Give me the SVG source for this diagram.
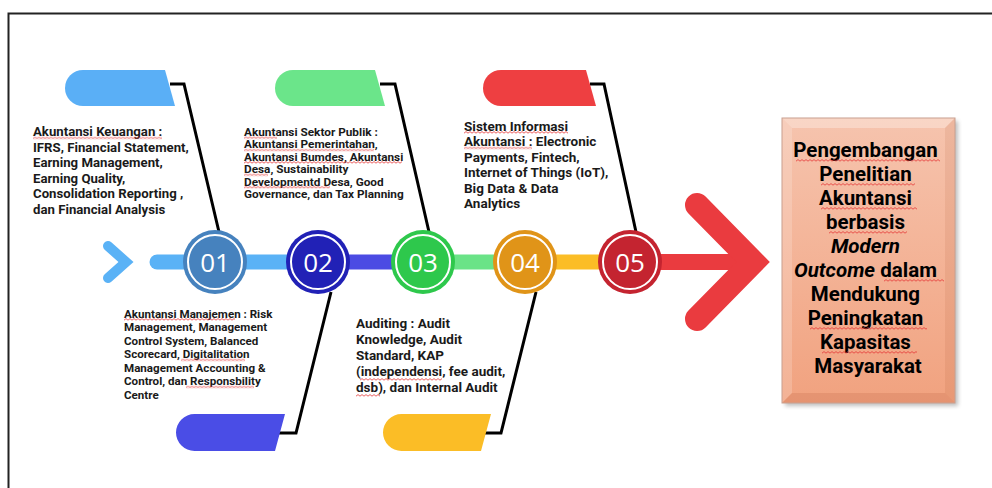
<svg xmlns="http://www.w3.org/2000/svg" width="992" height="488" viewBox="0 0 992 488">
<defs>
<style>
.t{font-family:Roboto,"Liberation Sans",Arial,sans-serif;font-weight:700;fill:#1a1a1a}
.num{font-family:"Open Sans","Noto Sans",sans-serif;font-size:26px;fill:#fff;text-anchor:middle}
.con{fill:none;stroke:#000;stroke-width:3;stroke-linejoin:miter}
.ring{fill:none;stroke:#fff;stroke-width:2}
.bx{font-family:Roboto,"Liberation Sans",Arial,sans-serif;font-weight:700;font-size:20.5px;fill:#000;text-anchor:middle}
</style>
<pattern id="sq" width="4" height="3" patternUnits="userSpaceOnUse">
<path d="M0 2.2 L2 0.6 L4 2.2" fill="none" stroke="#e53535" stroke-width="0.8"/>
</pattern>
<linearGradient id="bg" x1="0" y1="0" x2="0" y2="1">
<stop offset="0" stop-color="#f6c4ae"/>
<stop offset="1" stop-color="#f1a27f"/>
</linearGradient>
<filter id="sh" x="-10%" y="-10%" width="130%" height="130%">
<feGaussianBlur stdDeviation="2"/>
</filter>
</defs>
<rect width="992" height="488" fill="#fff"/>
<path d="M8.5 488 V13.5 H992" fill="none" stroke="#222" stroke-width="2"/>

<g id="main-line">
<line x1="157" y1="262" x2="318" y2="262" stroke="#5ab2f6" stroke-width="15" stroke-linecap="round"/>
<line x1="318" y1="262" x2="423" y2="262" stroke="#4b4be3" stroke-width="15"/>
<line x1="423" y1="262" x2="525" y2="262" stroke="#6ae387" stroke-width="15"/>
<line x1="525" y1="262" x2="630" y2="262" stroke="#fbbd26" stroke-width="15"/>
<line x1="630" y1="262" x2="752" y2="262" stroke="#ea3b3f" stroke-width="16"/>
<polyline points="697,205 753,262 697,319" fill="none" stroke="#ea3b3f" stroke-width="24" stroke-linecap="round" stroke-linejoin="miter"/>
<polyline points="108,246 126,262 108,278" fill="none" stroke="#5ab2f6" stroke-width="10" stroke-linecap="round" stroke-linejoin="miter"/>
</g>

<g id="connectors">
<path class="con" d="M170 84 H184 L219 232"/>
<path class="con" d="M380 84 H395 L429 232"/>
<path class="con" d="M590 84 H604 L636 232"/>
<path class="con" d="M278 433 H296 L331 292"/>
<path class="con" d="M484 433 H501 L536 292"/>
</g>

<g id="tab-1"><path d="M83 70 H165 L175 106 H83 A18 18 0 0 1 83 70 Z" fill="#5aaff6"/></g>
<g id="tab-2"><path d="M293 70 H375 L385 106 H293 A18 18 0 0 1 293 70 Z" fill="#6be58a"/></g>
<g id="tab-3"><path d="M501 70 H586 L596 106 H501 A18 18 0 0 1 501 70 Z" fill="#ee3f41"/></g>
<g id="tab-4"><path d="M194.5 414 H285 L275 451 H194.5 A18.5 18.5 0 0 1 194.5 414 Z" fill="#4a4de6"/></g>
<g id="tab-5"><path d="M401.5 414 H491 L481 451 H401.5 A18.5 18.5 0 0 1 401.5 414 Z" fill="#fbbd26"/></g>

<g id="node-01"><circle cx="215" cy="262" r="32" fill="#4682be"/><circle class="ring" cx="215" cy="262" r="27"/><text class="num" x="215" y="271.5">01</text></g>
<g id="node-02"><circle cx="318" cy="262" r="32" fill="#2121b6"/><circle class="ring" cx="318" cy="262" r="27"/><text class="num" x="318" y="271.5">02</text></g>
<g id="node-03"><circle cx="423" cy="262" r="32" fill="#2ec84c"/><circle class="ring" cx="423" cy="262" r="27"/><text class="num" x="423" y="271.5">03</text></g>
<g id="node-04"><circle cx="525" cy="262" r="32" fill="#e09418"/><circle class="ring" cx="525" cy="262" r="27"/><text class="num" x="525" y="271.5">04</text></g>
<g id="node-05"><circle cx="630" cy="262" r="32" fill="#c42430"/><circle class="ring" cx="630" cy="262" r="27"/><text class="num" x="630" y="271.5">05</text></g>

<g id="text-keuangan">
<text class="t" font-size="13.2">
<tspan x="33" y="136">Akuntansi Keuangan :</tspan>
<tspan x="33" y="151.6">IFRS, Financial Statement,</tspan>
<tspan x="33" y="167.2">Earning Management,</tspan>
<tspan x="33" y="182.8">Earning Quality,</tspan>
<tspan x="33" y="198.4">Consolidation Reporting ,</tspan>
<tspan x="33" y="214">dan Financial Analysis</tspan>
</text>
<rect transform="translate(33,136.5)" width="129" height="3" fill="url(#sq)"/>
</g>

<g id="text-publik">
<text class="t" font-size="11.8">
<tspan x="244" y="136">Akuntansi Sektor Publik :</tspan>
<tspan x="244" y="148.4">Akuntansi Pemerintahan,</tspan>
<tspan x="244" y="160.8">Akuntansi Bumdes, Akuntansi</tspan>
<tspan x="244" y="173.2">Desa, Sustainability</tspan>
<tspan x="244" y="185.6">Developmentd Desa, Good</tspan>
<tspan x="244" y="198">Governance, dan Tax Planning</tspan>
</text>
<rect transform="translate(244,136.3)" width="33" height="3" fill="url(#sq)"/>
<rect transform="translate(244,148.6)" width="130" height="3" fill="url(#sq)"/>
<rect transform="translate(244,161)" width="158" height="3" fill="url(#sq)"/>
<rect transform="translate(244,173.4)" width="24" height="3" fill="url(#sq)"/>
<rect transform="translate(244,185.8)" width="86" height="3" fill="url(#sq)"/>
</g>

<g id="text-sia">
<text class="t" font-size="13.5">
<tspan x="464" y="130.5">Sistem Informasi</tspan>
<tspan x="464" y="146">Akuntansi : Electronic</tspan>
<tspan x="464" y="161.5">Payments, Fintech,</tspan>
<tspan x="464" y="177">Internet of Things (IoT),</tspan>
<tspan x="464" y="192.5">Big Data &amp; Data</tspan>
<tspan x="464" y="208">Analytics</tspan>
</text>
<rect transform="translate(464,131)" width="104" height="3" fill="url(#sq)"/>
<rect transform="translate(464,146.5)" width="68" height="3" fill="url(#sq)"/>
</g>

<g id="text-manajemen">
<text class="t" font-size="11.6">
<tspan x="124" y="317.5">Akuntansi Manajemen : Risk</tspan>
<tspan x="124" y="331">Management, Management</tspan>
<tspan x="124" y="344.5">Control System, Balanced</tspan>
<tspan x="124" y="358">Scorecard, Digitalitation</tspan>
<tspan x="124" y="371.5">Management Accounting &amp;</tspan>
<tspan x="124" y="385">Control, dan Responsbility</tspan>
<tspan x="124" y="398.5">Centre</tspan>
</text>
<rect transform="translate(124,318)" width="111" height="3" fill="url(#sq)"/>
<rect transform="translate(181,358.5)" width="64" height="3" fill="url(#sq)"/>
<rect transform="translate(186,385.5)" width="68" height="3" fill="url(#sq)"/>
</g>

<g id="text-auditing">
<text class="t" font-size="13.5">
<tspan x="356" y="327.5">Auditing : Audit</tspan>
<tspan x="356" y="343.5">Knowledge, Audit</tspan>
<tspan x="356" y="359.5">Standard, KAP</tspan>
<tspan x="356" y="375.5">(independensi, fee audit,</tspan>
<tspan x="356" y="391.5">dsb), dan Internal Audit</tspan>
</text>
<rect transform="translate(360,378)" width="82" height="3" fill="url(#sq)"/>
<rect transform="translate(356,394)" width="24" height="3" fill="url(#sq)"/>
</g>

<g id="outcome-box">
<rect x="785" y="121" width="173" height="285" fill="#000" opacity="0.25" filter="url(#sh)"/>
<rect x="782" y="118" width="173" height="285" fill="url(#bg)"/>
<polygon points="782,118 955,118 945,128 792,128" fill="#fff" opacity="0.3"/>
<polygon points="782,118 792,128 792,393 782,403" fill="#fff" opacity="0.18"/>
<polygon points="955,118 955,403 945,393 945,128" fill="#a04020" opacity="0.1"/>
<polygon points="782,403 955,403 945,393 792,393" fill="#a04020" opacity="0.15"/>
<rect x="782" y="118" width="173" height="285" fill="none" stroke="#c9a090" stroke-width="1"/>
<text class="bx">
<tspan x="868" y="156.5">Pengembangan</tspan>
<tspan x="868" y="180.5">Penelitian</tspan>
<tspan x="868" y="204.5">Akuntansi</tspan>
<tspan x="868" y="228.5">berbasis</tspan>
<tspan x="868" y="252.5" font-style="italic">Modern</tspan>
<tspan x="868" y="276.5"><tspan font-style="italic">Outcome</tspan> dalam</tspan>
<tspan x="868" y="300.5">Mendukung</tspan>
<tspan x="868" y="324.5">Peningkatan</tspan>
<tspan x="868" y="348.5">Kapasitas</tspan>
<tspan x="868" y="372.5">Masyarakat</tspan>
</text>
<rect transform="translate(796,159)" width="144" height="3" fill="url(#sq)"/>
<rect transform="translate(821,183)" width="94" height="3" fill="url(#sq)"/>
<rect transform="translate(821,207)" width="96" height="3" fill="url(#sq)"/>
<rect transform="translate(829,231)" width="78" height="3" fill="url(#sq)"/>
<rect transform="translate(884,279)" width="60" height="3" fill="url(#sq)"/>
<rect transform="translate(810,327)" width="117" height="3" fill="url(#sq)"/>
<rect transform="translate(822,351)" width="95" height="3" fill="url(#sq)"/>
</g>
</svg>
